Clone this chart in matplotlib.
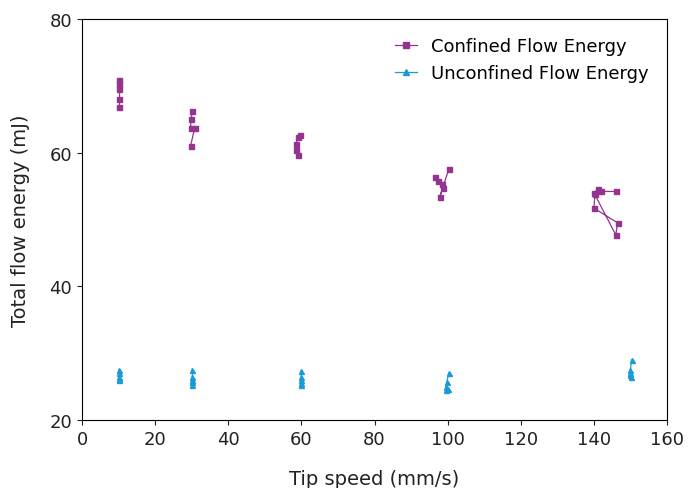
import matplotlib
matplotlib.use("Agg")
import matplotlib.pyplot as plt

plt.rcParams['font.family'] = ['DejaVu Sans']

# confined flow energy, repeats at each tip speed (one list per speed)
conf_x = [[10, 10, 10, 10, 10],
          [30.2, 29.8, 29.7, 30.8, 29.7],
          [59.5, 59.0, 58.6, 58.4, 59.0],
          [96.5, 97.5, 98.5, 98.7, 97.8, 100.3],
          [146, 142, 141, 140, 146, 146.5, 140, 140.3]]
conf_y = [[70.8, 70.3, 69.5, 68.0, 66.8],
          [66.2, 65.0, 63.7, 63.7, 61.0],
          [62.7, 62.3, 61.3, 60.4, 59.6],
          [56.3, 55.7, 55.3, 54.7, 53.3, 57.5],
          [54.2, 54.2, 54.5, 54.0, 47.7, 49.5, 51.7, 53.8]]

# unconfined flow energy
unconf_x = [[10, 10, 10, 10, 10],
            [30, 30, 30, 30, 30],
            [60, 60, 59.8, 59.8, 60],
            [100.3, 99.8, 99.5, 99.6, 100],
            [150.3, 150, 150, 150, 150.2]]
unconf_y = [[27.5, 27.0, 26.5, 26.2, 26.0],
            [27.5, 26.5, 26.0, 25.7, 25.3],
            [27.3, 26.5, 26.0, 25.5, 25.2],
            [27.0, 25.7, 25.0, 24.5, 24.7],
            [29.0, 27.5, 27.0, 26.7, 26.4]]

purple = '#94348f'
blue = '#1a9ad6'

fig = plt.figure(figsize=(6.88, 4.89), dpi=100)
ax = fig.add_axes([82/688, 68/489, 585/688, 401/489])

for i, (xs, ys) in enumerate(zip(conf_x, conf_y)):
    ax.plot(xs, ys, color=purple, marker='s', markersize=3.6, lw=0.9,
            label='Confined Flow Energy' if i == 0 else None)
for i, (xs, ys) in enumerate(zip(unconf_x, unconf_y)):
    ax.plot(xs, ys, color=blue, marker='^', markersize=3.6, lw=0.9,
            label='Unconfined Flow Energy' if i == 0 else None)

ax.set_xlim(0, 160)
ax.set_ylim(20, 80)
ax.set_xticks(range(0, 161, 20))
ax.set_yticks(range(20, 81, 20))
ax.tick_params(labelsize=13, colors='#222222')
ax.set_xlabel('Tip speed (mm/s)', fontsize=14, color='#222222', labelpad=15)
ax.set_ylabel('Total flow energy (mJ)', fontsize=14, color='#222222', labelpad=14)

ax.legend(loc='upper right', frameon=False, fontsize=13, handlelength=1.2,
          borderaxespad=0.6, labelspacing=0.5, markerscale=1.3)

fig.savefig('out.png', dpi=100)
